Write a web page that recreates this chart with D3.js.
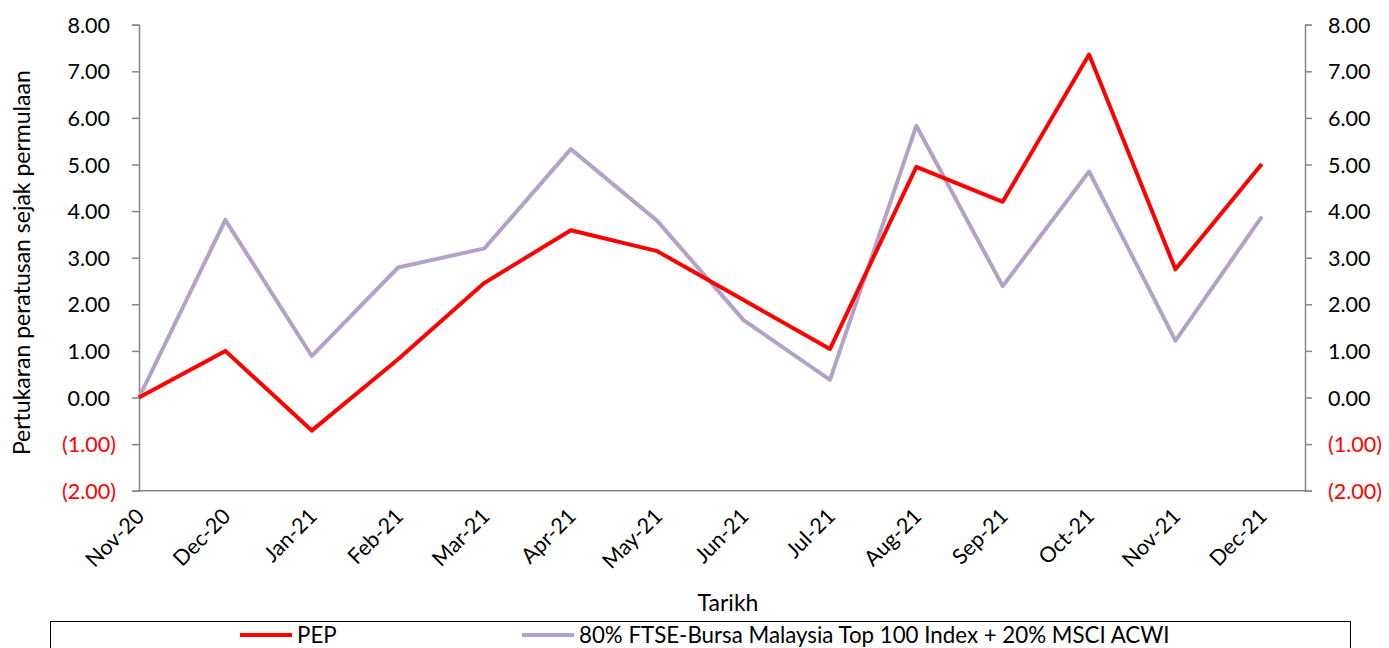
<!DOCTYPE html>
<html><head><meta charset="utf-8">
<script src="https://cdn.jsdelivr.net/npm/d3@7"></script>
<style>body{margin:0;background:#fff}text{font-family:Lato,"Open Sans",sans-serif}</style>
</head><body><svg id="c" width="1389" height="648"></svg>
<script>
const categories = ["Nov-20","Dec-20","Jan-21","Feb-21","Mar-21","Apr-21","May-21","Jun-21","Jul-21","Aug-21","Sep-21","Oct-21","Nov-21","Dec-21"];
const pepValues = [0.00,1.00,-0.71,0.82,2.46,3.59,3.14,2.09,1.04,4.95,4.20,7.36,2.75,5.01];
const benchValues = [0.00,3.81,0.89,2.79,3.20,5.33,3.79,1.66,0.38,5.83,2.39,4.85,1.22,3.88];
const yTicks = [-2,-1,0,1,2,3,4,5,6,7,8];
const seriesNames = ["PEP","80% FTSE-Bursa Malaysia Top 100 Index + 20% MSCI ACWI"];
const seriesColors = ["#ff0000","#b3a2c7"];
const yTitle = "Pertukaran peratusan sejak permulaan";
const xTitle = "Tarikh";

const svg = d3.select("#c");
const L = 139, R = 1305, T = 24.7, B = 490.7;
const step = (R - L) / 13.5;
const x = d3.scalePoint().domain(categories).range([L, L + step * 13]);
const y = d3.scaleLinear().domain([-2, 8]).range([B, T]);
const fmt = v => v < 0 ? "(" + Math.abs(v).toFixed(2) + ")" : v.toFixed(2);
const axisColor = "#868686";
const FS = 21.5;

// left axis
const la = svg.append("g").attr("transform", `translate(${L},0)`)
  .call(d3.axisLeft(y).tickValues(yTicks).tickSize(7).tickFormat(fmt));
la.select(".domain").attr("stroke", axisColor).attr("stroke-width", 1.5);
la.selectAll(".tick line").attr("stroke", axisColor).attr("stroke-width", 1.5);
la.selectAll(".tick text").attr("font-size", FS).attr("fill", d => d < 0 ? "#ff0000" : "#000")
  .attr("x", d => d < 0 ? -23 : -29).attr("dy", "0.35em");

// right axis
const ra = svg.append("g").attr("transform", `translate(${R},0)`)
  .call(d3.axisRight(y).tickValues(yTicks).tickSize(7).tickFormat(fmt));
ra.select(".domain").attr("stroke", axisColor).attr("stroke-width", 1.5);
ra.selectAll(".tick line").attr("stroke", axisColor).attr("stroke-width", 1.5);
ra.selectAll(".tick text").attr("font-size", FS).attr("fill", d => d < 0 ? "#ff0000" : "#000")
  .attr("x", 23).attr("dy", "0.35em");

// bottom axis
const ba = svg.append("g").attr("transform", `translate(0,${B})`)
  .call(d3.axisBottom(x).tickSize(0).tickSizeOuter(0));
ba.select(".domain").attr("stroke", axisColor).attr("stroke-width", 1.5)
  .attr("d", `M${L},0H${R}`);
ba.selectAll(".tick text").attr("font-size", FS).attr("fill", "#000")
  .attr("text-anchor", "end").attr("x", 0).attr("y", 0).attr("dy", 0)
  .attr("transform", "translate(6,27) rotate(-45)");

// lines
const line = d3.line().x((d, i) => x(categories[i])).y(d => y(d));
[benchValues, pepValues].forEach((vals, k) => {
  const idx = k === 0 ? 1 : 0;
  svg.append("path").datum(vals).attr("d", line).attr("fill", "none")
    .attr("stroke", seriesColors[idx]).attr("stroke-width", 4)
    .attr("stroke-linejoin", "round");
});

// titles
svg.append("text").attr("transform", `translate(30,${(T + B) / 2 + 5}) rotate(-90)`)
  .attr("text-anchor", "middle").attr("font-size", 23).text(yTitle);
svg.append("text").attr("x", (L + R) / 2 + 6).attr("y", 611)
  .attr("text-anchor", "middle").attr("font-size", 23).text(xTitle);

// legend
svg.append("rect").attr("x", 50.5).attr("y", 621.5).attr("width", 1300).attr("height", 40)
  .attr("fill", "none").attr("stroke", "#000").attr("stroke-width", 1);
const legX = [240, 522];
seriesNames.forEach((n, i) => {
  svg.append("line").attr("x1", legX[i]).attr("x2", legX[i] + 52).attr("y1", 635).attr("y2", 635)
    .attr("stroke", seriesColors[i]).attr("stroke-width", 4);
  svg.append("text").attr("x", legX[i] + 57).attr("y", 643).attr("font-size", 22.3).text(n);
});
</script></body></html>
